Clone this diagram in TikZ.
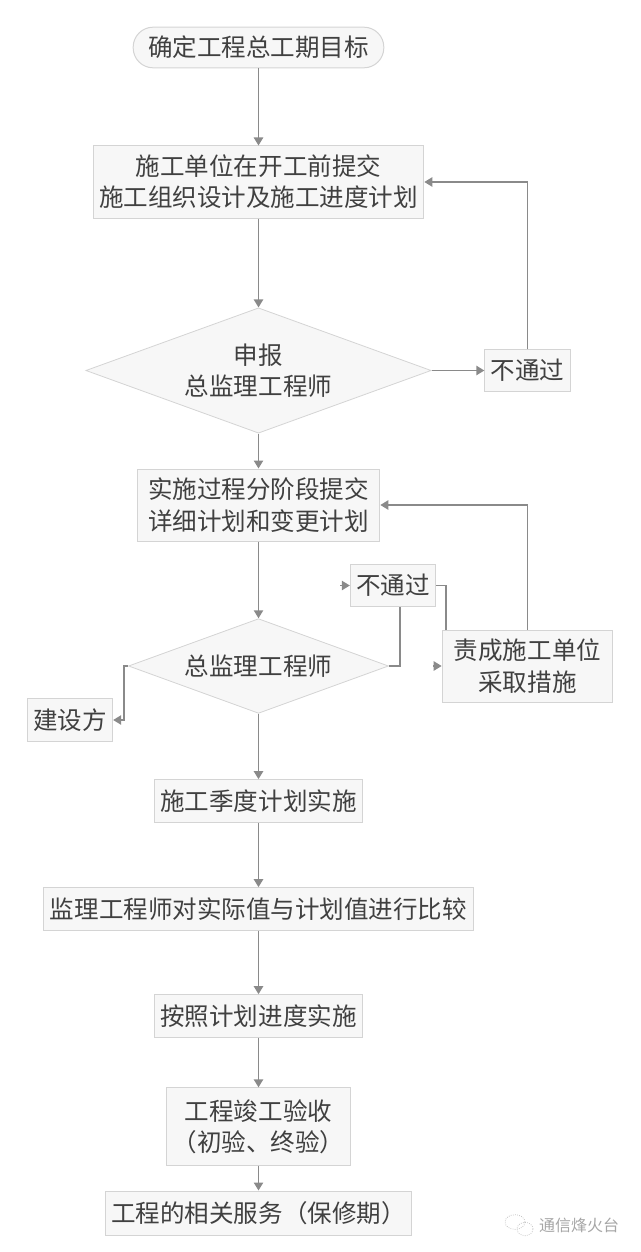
\documentclass[tikz,border=0pt]{standalone}
\usepackage{fontspec}
\setmainfont{Noto Sans CJK SC}
\usetikzlibrary{shapes.geometric}
\usetikzlibrary{arrows.meta}
\definecolor{boxfill}{HTML}{F7F7F7}
\definecolor{boxline}{HTML}{D4D4D4}
\definecolor{edgeline}{HTML}{8A8A8A}
\definecolor{txt}{HTML}{404040}
\tikzset{
    cell/.style = {rectangle, draw=boxline, fill=boxfill, text=txt, align=center, inner sep=0pt, line width=0.75pt},
    mynode/.style = {cell, rounded corners=15pt},
    mydia/.style = {diamond, aspect=2.76, draw=boxline, fill=boxfill, text=txt, align=center, inner sep=0pt, line width=0.6pt},
    edgen/.style = {-{Triangle[length=6pt,width=7pt]}, line width=1.1pt, edgeline},
    edgep/.style = {line width=1.1pt, edgeline},
    mark text/.style = {text=gray!70, font=\fontsize{12}{12}\selectfont},
    mark icon/.style = {ellipse, draw=gray!45, densely dotted, line width=0.6pt, inner sep=0pt}
}

\begin{document}
\begin{tikzpicture}[x=0.75pt,y=-0.75pt,font=\fontsize{18.4}{23.4}\selectfont]
\useasboundingbox (0,0) rectangle (640,1252);

\node[mynode, minimum width=188pt, minimum height=30.5pt] at (258.5,47.5) (start) {确定工程总工期目标};
\node[cell, minimum width=248pt, minimum height=54pt] at (258.5,182) (sub) {施工单位在开工前提交\\施工组织设计及施工进度计划};
\node[mydia, minimum width=259pt, minimum height=94pt] at (258.5,370.5) (chk) {申报\\总监理工程师};
\node[cell, minimum width=64pt, minimum height=31pt] at (527.5,370.5) (nop) {不通过};
\node[cell, minimum width=182pt, minimum height=54pt] at (258.5,505) (stage) {实施过程分阶段提交\\详细计划和变更计划};
\node[mydia, minimum width=195pt, minimum height=71pt] at (258.5,666) (chief) {总监理工程师};
\node[cell, minimum width=64pt, minimum height=32pt] at (393,585.5) (nopb) {不通过};
\node[cell, minimum width=128pt, minimum height=54pt] at (527.5,666) (duty) {责成施工单位\\采取措施};
\node[cell, minimum width=64pt, minimum height=32pt] at (70,720) (owner) {建设方};
\node[cell, minimum width=156pt, minimum height=32pt] at (258.5,801) (quarter) {施工季度计划实施};
\node[cell, minimum width=322pt, minimum height=32pt] at (258.5,909) (cmp) {监理工程师对实际值与计划值进行比较};
\node[cell, minimum width=156pt, minimum height=32pt] at (258.5,1016) (plan) {按照计划进度实施};
\node[cell, minimum width=138pt, minimum height=58pt] at (258.5,1126.5) (accept) {工程竣工验收\\（初验、终验）};
\node[cell, minimum width=230pt, minimum height=33pt] at (258.5,1213) (serv) {工程的相关服务（保修期）};

\coordinate (nopin) at (340,585.5);
\coordinate (dutyin) at (433,666);
\coordinate (nopout) at (400,607);

\draw[edgen] (start) -- (sub);
\draw[edgen] (sub) -- (chk);
\draw[edgen] (chk) -- (stage);
\draw[edgen] (chk) -- (nop);
\draw[edgen] (nop.north) |- (sub.east);
\draw[edgen] (stage) -- (chief);
\draw[edgep] (chief.east) -| (nopout);
\draw[edgen] (nopin) -- (nopb);
\draw[edgep] (nopb.east) -- ++(10,0) -- ++(0,44.5);
\draw[edgen] (dutyin) -- (duty);
\draw[edgen] (duty.north) |- (stage.east);
\draw[edgen] (chief.west) -- ++(-4,0) |- (owner.east);
\draw[edgen] (chief) -- (quarter);
\draw[edgen] (quarter) -- (cmp);
\draw[edgen] (cmp) -- (plan);
\draw[edgen] (plan) -- (accept);
\draw[edgen] (accept) -- (serv);

\node[mark icon, minimum width=15pt, minimum height=11pt] at (515,1222) (iconl) {};
\node[mark icon, minimum width=12pt, minimum height=10pt] at (525,1229) (iconr) {};
\node[mark text] at (579,1225) (mark) {通信烽火台};
\end{tikzpicture}
\end{document}
